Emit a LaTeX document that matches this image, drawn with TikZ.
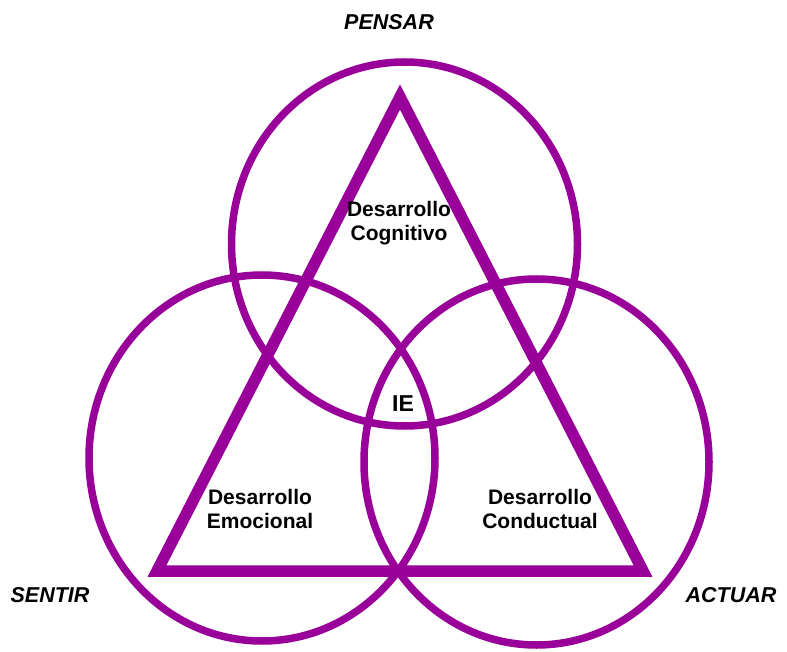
\documentclass[tikz,border=0pt]{standalone}
\usepackage{fontspec}
\setmainfont{Liberation Sans}
\begin{document}
\begin{tikzpicture}[x=1pt,y=-1pt,
  ring/.style={draw=violet1, line width=7.5pt},
  tri/.style={draw=violet1, line width=11.5pt, line join=miter},
  area/.style={font=\fontsize{21}{24.5}\selectfont\bfseries, align=center, inner sep=0pt},
  mode/.style={font=\fontsize{21.5}{24}\selectfont\bfseries\itshape, inner sep=0pt}]
\definecolor{violet1}{HTML}{990099}
\useasboundingbox (0,0) rectangle (787,652);
% three overlapping domains
\draw[ring] (404.5,244) ellipse [x radius=173, y radius=182];
\draw[ring] (262,458) ellipse [x radius=173, y radius=183];
\draw[ring] (536.5,462) ellipse [x radius=172.5, y radius=183];
% triangle joining the three areas
\coordinate (apex) at (400,97);
\coordinate (bl) at (157,571);
\coordinate (br) at (643,571);
\draw[tri] (apex) -- (bl) -- (br) -- cycle;
% labels
\node[mode] (pensar) at (389,22) {PENSAR};
\node[mode] (sentir) at (50,595) {SENTIR};
\node[mode] (actuar) at (731,595) {ACTUAR};
\node[area] (cog) at (399,223) {Desarrollo\\Cognitivo};
\node[area] (emo) at (260,509) {Desarrollo\\Emocional};
\node[area] (con) at (540,509) {Desarrollo\\Conductual};
\node[area, font=\fontsize{23}{24}\selectfont\bfseries] (ie) at (403,404) {IE};
\end{tikzpicture}
\end{document}
